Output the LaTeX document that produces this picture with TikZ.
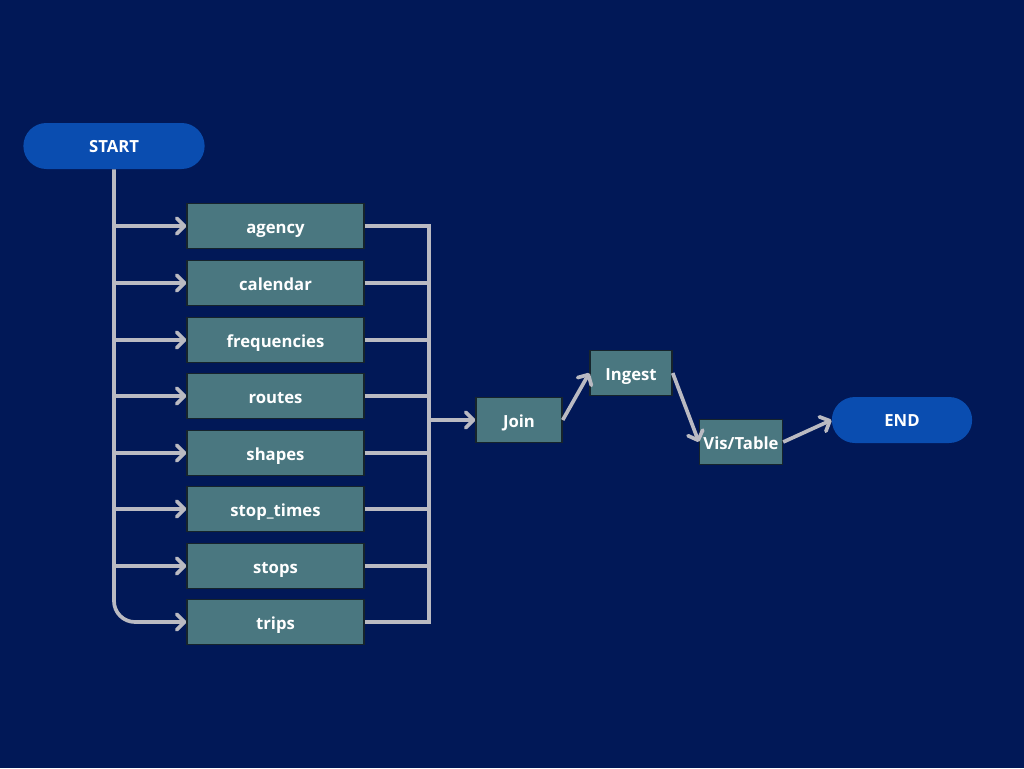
\documentclass[tikz,border=0pt]{standalone}
\usepackage{fontspec}
\setmainfont{Open Sans}
\usetikzlibrary{arrows.meta}
\usetikzlibrary{shapes.misc}

\definecolor{bgnavy}{RGB}{1,24,87}
\definecolor{pillblue}{RGB}{10,77,176}
\definecolor{boxteal}{RGB}{74,119,128}
\definecolor{boxedge}{RGB}{22,36,44}
\definecolor{wiregray}{RGB}{186,186,194}

\begin{document}
\begin{tikzpicture} [x=0.02cm, y=-0.02cm,
  pill/.style={rounded rectangle, fill=pillblue, text=white, font=\bfseries\fontsize{9.5}{11}\selectfont, minimum height=0.92cm, text height=1.4ex, text depth=0pt},
  tbl/.style={rectangle, draw=boxedge, line width=0.8pt, fill=boxteal, text=white, font=\bfseries\fontsize{9.5}{11}\selectfont, minimum height=0.9cm, inner sep=0pt, text height=1.5ex, text depth=0pt},
  wire/.style={wiregray, line width=2.1pt},
  arr/.style={wire, -{Straight Barb[length=4.5pt, width=9pt, line cap=round, round]}}]

\fill[bgnavy] (0,0) rectangle (1024,768);
\useasboundingbox (0,0) rectangle (1024,768);

\node[pill, minimum width=3.86cm] (start) at (114,146) {START};
\node[pill, minimum width=3.04cm] (end) at (902,420) {END};

\foreach \name/\label/\y in {agency/agency/226, calendar/calendar/283, frequencies/frequencies/340, routes/routes/396, shapes/shapes/453, stoptimes/stop\_times/509, stops/stops/566, trips/trips/622}
  \node[tbl, minimum width=3.54cm] (\name) at (275.5,\y) {\label};

\node[tbl, minimum width=1.72cm] (join) at (519,420) {Join};
\node[tbl, minimum width=1.64cm] (ingest) at (631,373) {Ingest};
\node[tbl, minimum width=1.66cm] (vis) at (741,442) {Vis/Table};

% left trunk
\draw[arr, rounded corners=0.42cm] (start.south) |- (trips.west);
\foreach \name in {agency, calendar, frequencies, routes, shapes, stoptimes, stops}
  \draw[arr] (start.south |- \name.west) -- (\name.west);

% right bus
\coordinate (bus) at (429,420);
\draw[wire] (agency.east) -| (bus |- trips.east) -- (trips.east);
\foreach \name in {calendar, frequencies, routes, shapes, stoptimes, stops}
  \draw[wire] (\name.east) -- (bus |- \name.east);
\draw[arr] (bus) -- (join.west);

\draw[arr] (join.east) -- (ingest.west);
\draw[arr] (ingest.east) -- (vis.west);
\draw[arr] (vis.east) -- (end.west);

\end{tikzpicture}
\end{document}
